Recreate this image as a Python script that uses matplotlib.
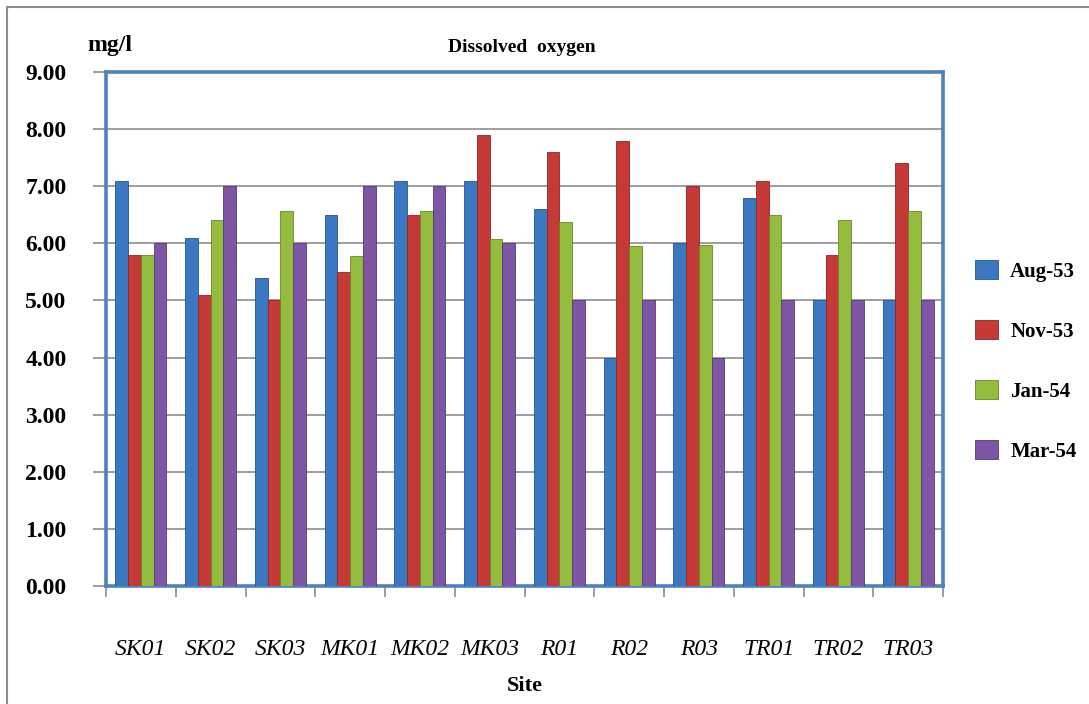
import matplotlib
matplotlib.use("Agg")
import matplotlib.pyplot as plt
import numpy as np
from matplotlib.patches import Rectangle

sites = ["SK01", "SK02", "SK03", "MK01", "MK02", "MK03", "R01", "R02", "R03", "TR01", "TR02", "TR03"]
series_names = ["Aug-53", "Nov-53", "Jan-54", "Mar-54"]
aug53 = [7.1, 6.1, 5.4, 6.5, 7.1, 7.1, 6.6, 4.0, 6.0, 6.8, 5.0, 5.0]
nov53 = [5.8, 5.1, 5.0, 5.5, 6.5, 7.9, 7.6, 7.8, 7.0, 7.1, 5.8, 7.4]
jan54 = [5.8, 6.4, 6.57, 5.78, 6.57, 6.07, 6.38, 5.95, 5.97, 6.5, 6.4, 6.57]
mar54 = [6.0, 7.0, 6.0, 7.0, 7.0, 6.0, 5.0, 5.0, 4.0, 5.0, 5.0, 5.0]
yticks = [0, 1, 2, 3, 4, 5, 6, 7, 8, 9]

colors = ["#3A78C2", "#C53A36", "#94BC3F", "#7D56A6"]
edges = ["#25558F", "#8E2523", "#68862A", "#563A78"]

plt.rcParams['font.family'] = ['Liberation Serif', 'DejaVu Serif']

fig = plt.figure(figsize=(10.89, 7.04), dpi=100)
W, H = 1089, 704
ax = fig.add_axes([106 / W, 1 - 586 / H, (943 - 106) / W, (586 - 72) / H])

# outer border (left and top visible)
fig.patches.append(Rectangle((7 / W, -0.1), 1.2, (704 - 7) / H + 0.1, transform=fig.transFigure,
                             fill=False, edgecolor="#8C8C8C", linewidth=1.5, zorder=0))

x = np.arange(len(sites))
bw = 0.182
all_series = [aug53, nov53, jan54, mar54]
for i, (vals, name) in enumerate(zip(all_series, series_names)):
    ax.bar(x + (i - 1.5) * bw, vals, width=bw, color=colors[i], edgecolor=edges[i],
           linewidth=0.6, label=name, zorder=3)

ax.set_xlim(-0.5, len(sites) - 0.5)
ax.set_ylim(0, 9)
ax.set_yticks(yticks)
ax.set_yticklabels([f"{v:.2f}" for v in yticks], fontsize=17, fontweight='bold')
for v in yticks[1:-1]:
    ax.axhline(v, color="#8C8C8C", linewidth=1.2, zorder=1)

ax.set_xticks(x)
ax.set_xticklabels(sites, fontsize=17, fontstyle='italic')
ax.set_xticks(np.arange(-0.5, len(sites), 1.0), minor=True)
ax.tick_params(axis='x', which='major', length=0, pad=38)
ax.tick_params(axis='x', which='minor', length=8, color="#8C8C8C", width=1.2, direction='out')
ax.tick_params(axis='y', length=9.5, color="#8C8C8C", width=1.2, pad=19)

for s in ax.spines.values():
    s.set_color("#4F81BD")
    s.set_linewidth(2.6)

ax.set_xlabel("Site", fontsize=16, fontweight='bold', labelpad=12)
fig.text(110 / W, 1 - 46 / H, "mg/l", fontsize=17, fontweight='bold', ha='center', va='center')
fig.text(522 / W, 1 - 48 / H, "Dissolved  oxygen", fontsize=14, fontweight='bold', ha='center', va='center')

leg = fig.legend(loc='center left', bbox_to_anchor=(956 / W, 1 - 361 / H), frameon=False,
                 prop={'weight': 'bold', 'size': 15}, handlelength=1.1, handleheight=1.0,
                 labelspacing=1.85, handletextpad=0.6)

fig.savefig("out.png", dpi=100)
